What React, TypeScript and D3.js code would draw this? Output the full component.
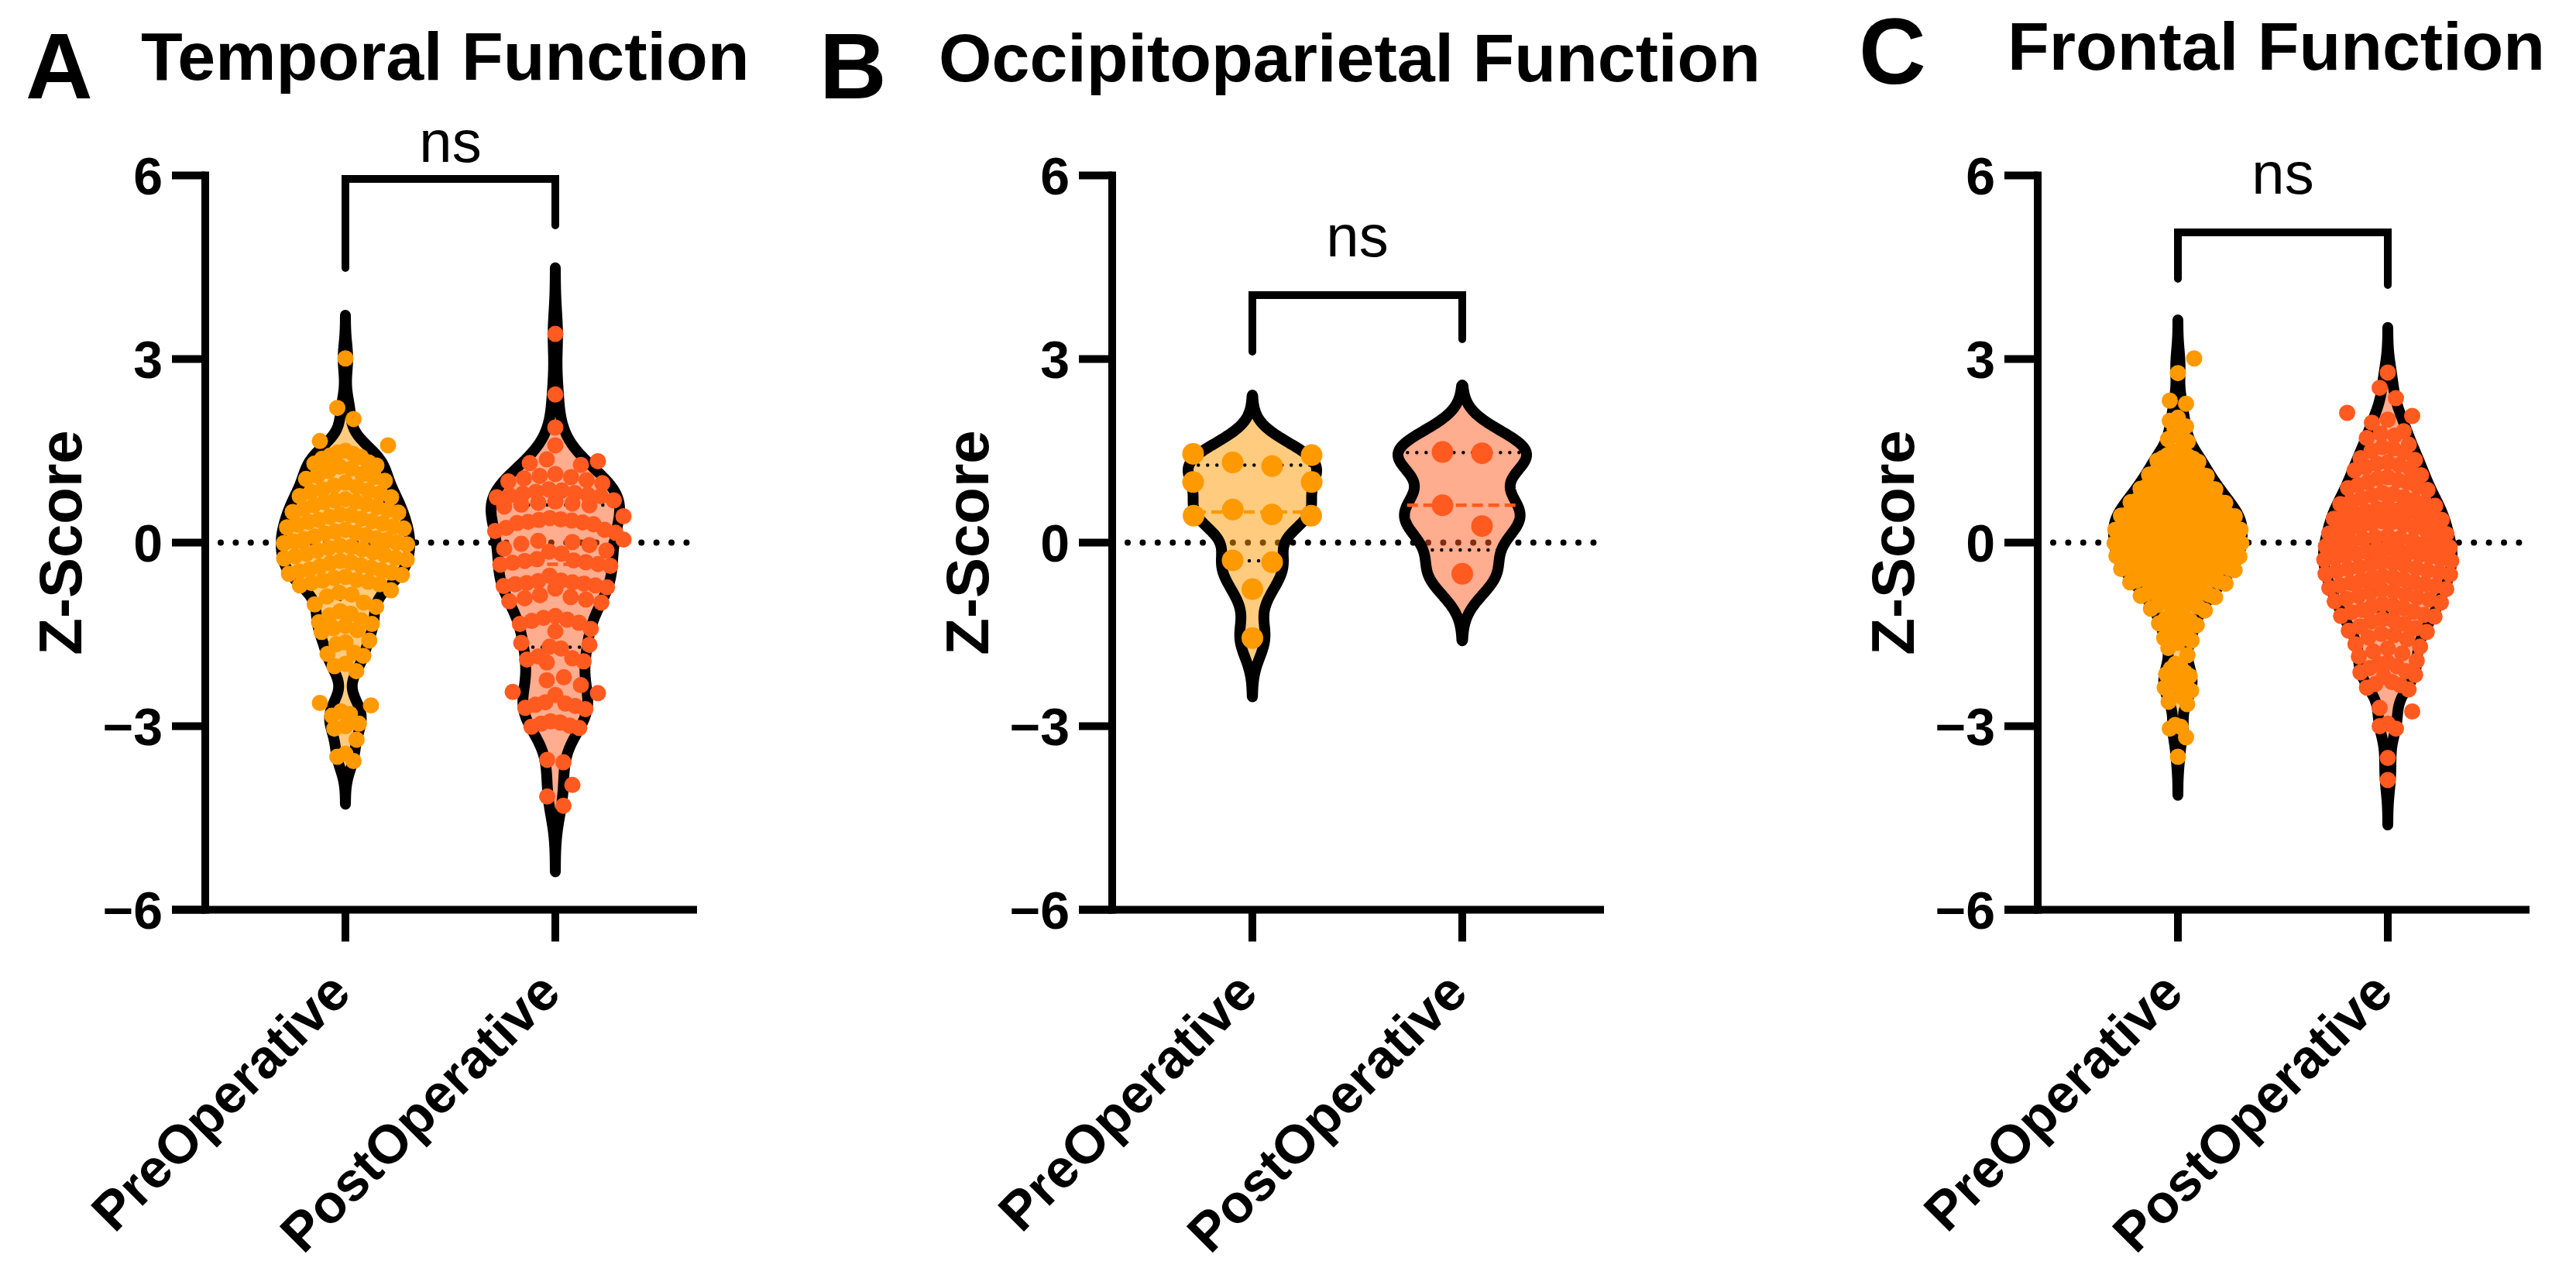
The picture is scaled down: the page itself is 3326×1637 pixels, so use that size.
import React from 'react';
import * as d3 from 'd3';

// ---------------- data ----------------
const categories = ['PreOperative', 'PostOperative'];
const yTicks = [-6, -3, 0, 3, 6];
const panelLetters = ['A', 'B', 'C'];
const panelTitles = ['Temporal Function', 'Occipitoparietal Function', 'Frontal Function'];
const significance = ['ns', 'ns', 'ns'];
const yAxisTitle = 'Z-Score';

const temporalPre = [
  3.01, 2.20, 2.02, 1.66, 1.59,
  1.50, 1.47, 1.45, 1.42, 1.40, 1.37,
  1.31, 1.29, 1.26, 1.24, 1.21, 1.17,
  1.12, 1.09, 1.07, 1.04, 1.01, 0.98,
  0.93, 0.91, 0.87, 0.85, 0.83, 0.80,
  0.76, 0.74, 0.71, 0.69, 0.67, 0.66, 0.63, 0.61,
  0.58, 0.55, 0.53, 0.50, 0.49, 0.46, 0.45, 0.42, 0.39,
  0.37, 0.35, 0.34, 0.31, 0.29, 0.26, 0.25, 0.23, 0.21,
  0.18, 0.16, 0.15, 0.12, 0.10, 0.07, 0.06, 0.04, 0.02,
  0.00, -0.01, -0.03, -0.05, -0.07, -0.09, -0.11, -0.13,
  -0.16, -0.18, -0.20, -0.22, -0.25, -0.26, -0.28, -0.30, -0.32, -0.34,
  -0.37, -0.39, -0.41, -0.44, -0.45, -0.47, -0.49, -0.51, -0.53,
  -0.56, -0.58, -0.61, -0.62, -0.64, -0.66, -0.68, -0.70,
  -0.78, -0.82, -0.85, -0.88,
  -0.98, -1.01, -1.05, -1.12, -1.16, -1.19, -1.27, -1.30, -1.33, -1.36, -1.40, -1.43,
  -1.46, -1.60, -1.63, -1.66, -1.80, -1.82, -1.85, -1.98, -2.02, -2.10,
  -2.62, -2.66, -2.76, -2.80, -2.83, -2.96, -3.00, -3.04, -3.22, -3.45, -3.50, -3.57,
];

const temporalPost = [
  3.41, 2.42, 1.88, 1.59,
  1.36, 1.33, 1.30, 1.27,
  1.12, 1.09, 1.07, 1.05, 1.02, 1.00, 0.97,
  0.87, 0.85, 0.83, 0.81, 0.80, 0.78, 0.77, 0.76, 0.74,
  0.69, 0.67, 0.65, 0.64, 0.62, 0.61, 0.59,
  0.43, 0.40, 0.38, 0.37, 0.36, 0.34, 0.33, 0.32, 0.30,
  0.24, 0.21, 0.19, 0.16,
  0.05, 0.03, 0.01, -0.02, -0.04,
  -0.10, -0.13, -0.15, -0.18,
  -0.27, -0.29, -0.30, -0.32, -0.33, -0.35, -0.36, -0.38,
  -0.54,
  -0.62, -0.63, -0.65, -0.66, -0.67, -0.68, -0.70, -0.71, -0.73, -0.75,
  -0.86, -0.89, -0.91, -0.93, -0.96, -0.98,
  -1.20, -1.23, -1.26, -1.28, -1.31, -1.33,
  -1.41, -1.45,
  -1.64, -1.67, -1.70, -1.73,
  -1.86, -1.89, -1.91, -1.94, -1.96,
  -2.20, -2.25, -2.33,
  -2.44, -2.46, -2.49,
  -2.61, -2.63, -2.65, -2.67, -2.70, -2.72,
  -2.92, -2.94, -2.96, -2.99, -3.01, -3.03,
  -3.55, -3.59, -3.96, -4.15, -4.30,
];

const occipitoparietalPre = [1.45, 1.43, 1.31, 1.25, 0.99, 0.99, 0.54, 0.46, 0.44, 0.44, -0.29, -0.32, -0.76, -1.56];
const occipitoparietalPost = [1.48, 1.46, 0.61, 0.27, -0.51];

const frontalPre = [
  3.01, 2.77, 2.32, 2.27, 2.04, 1.99, 1.90, 1.85, 1.72, 1.69, 1.65,
  1.49, 1.47, 1.44, 1.43, 1.41, 1.38, 1.37, 1.34, 1.32,
  1.29, 1.25, 1.24, 1.20, 1.18, 1.16, 1.13, 1.11,
  1.09, 1.08, 1.05, 1.04, 1.02, 1.00, 0.98, 0.97, 0.95,
  0.93, 0.92, 0.90, 0.88, 0.87, 0.85, 0.84, 0.82, 0.81, 0.79, 0.78,
  0.77, 0.75, 0.74, 0.73, 0.71, 0.70, 0.69, 0.67, 0.66, 0.65, 0.63, 0.62, 0.61,
  0.60, 0.59, 0.57, 0.56, 0.56, 0.54, 0.53, 0.52, 0.51, 0.49, 0.48, 0.48, 0.47, 0.46,
  0.45, 0.44, 0.43, 0.41, 0.41, 0.40, 0.39, 0.38, 0.36, 0.36, 0.35, 0.34, 0.33, 0.32,
  0.31, 0.30, 0.29, 0.28, 0.27, 0.27, 0.26, 0.24, 0.23, 0.22, 0.21, 0.21, 0.19, 0.18, 0.17,
  0.16, 0.15, 0.15, 0.13, 0.12, 0.11, 0.10, 0.09, 0.08, 0.08, 0.06, 0.05, 0.04, 0.03, 0.02,
  0.01, 0.00, -0.01, -0.01, -0.03, -0.04, -0.05, -0.06, -0.07, -0.08, -0.09, -0.10, -0.11, -0.12, -0.13,
  -0.14, -0.15, -0.17, -0.18, -0.19, -0.20, -0.21, -0.22, -0.23, -0.24, -0.25, -0.26, -0.27, -0.28, -0.28,
  -0.29, -0.31, -0.32, -0.33, -0.34, -0.35, -0.36, -0.37, -0.38, -0.39, -0.40, -0.41, -0.42, -0.43,
  -0.45, -0.46, -0.48, -0.49, -0.50, -0.52, -0.53, -0.54, -0.56, -0.57, -0.58, -0.59, -0.60,
  -0.62, -0.64, -0.65, -0.67, -0.68, -0.70, -0.71, -0.73, -0.74, -0.76, -0.77,
  -0.79, -0.81, -0.83, -0.85, -0.87, -0.89, -0.90, -0.92, -0.94,
  -0.97, -0.99, -1.02, -1.05, -1.08, -1.11, -1.14,
  -1.18, -1.21, -1.25, -1.28, -1.32, -1.35,
  -1.39, -1.43, -1.47, -1.52, -1.56, -1.60, -1.64,
  -1.72, -1.84,
  -1.98, -2.02, -2.06, -2.12, -2.15, -2.18,
  -2.26, -2.29, -2.31, -2.34, -2.37, -2.42, -2.46, -2.51,
  -2.60, -2.64,
  -2.98, -3.01, -3.04, -3.18, -3.50,
];

const frontalPost = [
  2.78, 2.53, 2.36, 2.12, 2.07, 2.01, 1.96,
  1.82, 1.78, 1.75, 1.71,
  1.60, 1.56, 1.54, 1.50, 1.47,
  1.38, 1.35, 1.31, 1.29, 1.27, 1.23, 1.21, 1.18,
  1.10, 1.07, 1.05, 1.02, 0.99, 0.98, 0.94, 0.92, 0.89, 0.86,
  0.81, 0.79, 0.77, 0.74, 0.72, 0.69, 0.67, 0.65, 0.63, 0.60, 0.58, 0.55,
  0.53, 0.51, 0.50, 0.47, 0.45, 0.43, 0.42, 0.39, 0.37, 0.35, 0.34, 0.31, 0.29, 0.27,
  0.25, 0.23, 0.22, 0.19, 0.17, 0.15, 0.14, 0.11, 0.09, 0.07, 0.06, 0.03, 0.01, -0.01, -0.02, -0.04,
  -0.06, -0.08, -0.09, -0.11, -0.13, -0.15, -0.16, -0.18, -0.20, -0.22, -0.23, -0.25, -0.27, -0.28, -0.30, -0.32,
  -0.34, -0.36, -0.37, -0.40, -0.42, -0.43, -0.46, -0.47, -0.49, -0.51, -0.52, -0.55, -0.57, -0.58,
  -0.60, -0.62, -0.65, -0.66, -0.68, -0.70, -0.71, -0.74, -0.76, -0.77, -0.80, -0.82,
  -0.85, -0.87, -0.90, -0.92, -0.93, -0.96, -0.98, -1.00, -1.03, -1.04, -1.07,
  -1.10, -1.13, -1.14, -1.18, -1.20, -1.21, -1.25, -1.27, -1.29, -1.33,
  -1.37, -1.40, -1.44, -1.46, -1.49, -1.51, -1.55, -1.58,
  -1.66, -1.70, -1.73, -1.78, -1.81, -1.86,
  -1.93, -1.96, -1.98, -2.02, -2.05,
  -2.10, -2.12, -2.16, -2.19,
  -2.28, -2.31, -2.33, -2.37, -2.40,
  -2.70, -2.76,
  -2.96, -3.00, -3.04,
  -3.52, -3.88,
];

// ---------------- style / layout ----------------
const FONT = "'Liberation Sans', Arial, Helvetica, sans-serif";
const COLORS = ['#FF9900', '#FF5A1F'];
const HALF = 83; // max half-width of violin path
const AXIS_W = 10;

type Panel = {
  pre: number[]; post: number[];
  axisX: number; letterX: number; letterY: number; titleX: number; titleY: number;
  bracketY: number; legs: [number, number]; nsY: number;
  r: number; binH: number; s0: number; spread: number; bw: [number, number];
};

const panels: Panel[] = [
  { pre: temporalPre, post: temporalPost, axisX: 265, letterX: 33, letterY: 127, titleX: 182, titleY: 103,
    bracketY: 231, legs: [346, 291], nsY: 209, r: 10.5, binH: 19, s0: 22, spread: -3, bw: [0.235, 0.36] },
  { pre: occipitoparietalPre, post: occipitoparietalPost, axisX: 1436, letterX: 1058, letterY: 127, titleX: 1212, titleY: 105,
    bracketY: 381, legs: [454, 438], nsY: 331, r: 14, binH: 28, s0: 51, spread: 3, bw: [0.32, 0.365] },
  { pre: frontalPre, post: frontalPost, axisX: 2631, letterX: 2400, letterY: 108, titleX: 2592, titleY: 90,
    bracketY: 300, legs: [360, 368], nsY: 250, r: 10.5, binH: 17, s0: 21, spread: -1, bw: [0.21, 0.245] },
];

const yScale = d3.scaleLinear().domain([-6, 6]).range([1174.5, 226.5]);

type Prof = { v: number; w: number };

function kdeProfile(values: number[], bw: number): Prof[] {
  const cut = 3;
  const lo = (d3.min(values) as number) - cut * bw;
  const hi = (d3.max(values) as number) + cut * bw;
  const n = 320;
  const grid = d3.range(n + 1).map((i) => lo + ((hi - lo) * i) / n);
  const dens = grid.map((g) => d3.sum(values, (v) => Math.exp(-0.5 * ((g - v) / bw) ** 2)));
  const max = d3.max(dens) as number;
  return grid.map((g, i) => ({ v: g, w: i === 0 || i === n ? 0 : (HALF * dens[i]) / max }));
}

function widthAt(prof: Prof[], v: number) {
  if (v <= prof[0].v || v >= prof[prof.length - 1].v) return 0;
  const i = d3.bisector((d: Prof) => d.v).left(prof, v);
  const a = prof[i - 1], b = prof[i];
  const t = (v - a.v) / (b.v - a.v);
  return a.w + t * (b.w - a.w);
}

function quant(sorted: number[], p: number) {
  const n = sorted.length;
  const h = (n + 1) * p;
  if (h <= 1) return sorted[0];
  if (h >= n) return sorted[n - 1];
  const i = Math.floor(h);
  return sorted[i - 1] + (h - i) * (sorted[i] - sorted[i - 1]);
}

function layoutSwarm(values: number[], wAt: (v: number) => number, r: number, binH: number, s0: number, spread: number) {
  const sorted = [...values].sort(d3.ascending);
  const bins: number[][] = [];
  let cur: number[] = [];
  for (const v of sorted) {
    if (cur.length && yScale(cur[0]) - yScale(v) > binH) { bins.push(cur); cur = []; }
    cur.push(v);
  }
  if (cur.length) bins.push(cur);
  const placed: { v: number; x: number; y: number }[] = [];
  for (const bin of bins) {
    const n = bin.length;
    const wl = Math.max(wAt(d3.mean(bin) as number) + spread, r);
    const s = n > 1 ? Math.min(s0, (2 * wl) / (n - 1)) : s0;
    const compressed = s < s0 - 1e-6;
    const half = (n - 1) / 2;
    const slots = d3.range(n).map((i) => (i - half) * s);
    slots.sort((a, b) => Math.abs(b) - Math.abs(a) || b - a);
    bin.forEach((v, i) => {
      let x = slots[i];
      const y = yScale(v);
      if (!compressed) {
        const minD = 2 * r * 0.95;
        const dir = x >= 0 ? 1 : -1;
        let guard = 0;
        while (placed.some((p) => Math.hypot(p.x - x, p.y - y) < minD) && guard < 12) { x += dir * s; guard++; }
      }
      placed.push({ v, x, y });
    });
  }
  return placed;
}

const fmt = (t: number) => (t < 0 ? '\u2212' + Math.abs(t) : String(t));

function PanelView({ cfg, idx }: { cfg: Panel; idx: number }) {
  const x = d3.scalePoint<string>().domain(categories).range([cfg.axisX + 181, cfg.axisX + 452]);
  const axisEnd = cfg.axisX + 635;
  const y0 = yScale(-6);
  const groups = [cfg.pre, cfg.post].map((vals, gi) => {
    const cx = x(categories[gi]) as number;
    const prof = kdeProfile(vals, cfg.bw[gi]);
    const wAt = (v: number) => widthAt(prof, v);
    const area = d3.area<Prof>().y((d) => yScale(d.v)).x0((d) => cx - d.w).x1((d) => cx + d.w).curve(d3.curveLinear);
    const pts = layoutSwarm(vals, wAt, cfg.r, cfg.binH, cfg.s0, cfg.spread);
    const sorted = [...vals].sort(d3.ascending);
    return {
      cx, path: area(prof) as string, pts, wAt,
      q1: quant(sorted, 0.25), med: quant(sorted, 0.5), q3: quant(sorted, 0.75),
      color: COLORS[gi],
    };
  });
  const [preX, postX] = [groups[0].cx, groups[1].cx];
  return (
    <g>
      <text x={cfg.letterX} y={cfg.letterY} fontSize={120} fontWeight="bold" fontFamily={FONT}>{panelLetters[idx]}</text>
      <text x={cfg.titleX} y={cfg.titleY} fontSize={88} fontWeight="bold" fontFamily={FONT}>{panelTitles[idx]}</text>
      <text transform={`translate(${cfg.axisX - 160},${yScale(0)}) rotate(-90)`} textAnchor="middle" fontSize={78} fontWeight="bold" fontFamily={FONT}>{yAxisTitle}</text>

      {/* zero reference line */}
      <line x1={cfg.axisX + 20} x2={axisEnd} y1={yScale(0)} y2={yScale(0)} stroke="#000" strokeWidth={8} strokeDasharray="0 19.4" strokeLinecap="round" />

      {/* violins */}
      {groups.map((g, gi) => (
        <path key={'v' + gi} d={g.path} fill={g.color} fillOpacity={0.5} stroke="#000" strokeWidth={14} strokeLinejoin="round" />
      ))}
      {groups.map((g, gi) => (
        <g key={'q' + gi}>
          {[g.q1, g.q3].map((q, k) => (
            <line key={k} x1={g.cx - g.wAt(q)} x2={g.cx + g.wAt(q)} y1={yScale(q)} y2={yScale(q)} stroke="#000" strokeWidth={4.5} strokeDasharray="0 12" strokeLinecap="round" />
          ))}
          <line x1={g.cx - g.wAt(g.med)} x2={g.cx + g.wAt(g.med)} y1={yScale(g.med)} y2={yScale(g.med)} stroke={g.color} strokeWidth={4.5} strokeDasharray="14 7" />
        </g>
      ))}
      {groups.map((g, gi) => (
        <g key={'p' + gi}>
          {g.pts.map((p, k) => (
            <circle key={k} cx={g.cx + p.x} cy={p.y} r={cfg.r} fill={g.color} />
          ))}
        </g>
      ))}

      {/* axes */}
      <line x1={cfg.axisX} x2={cfg.axisX} y1={yScale(6) - AXIS_W / 2} y2={y0 + AXIS_W / 2} stroke="#000" strokeWidth={AXIS_W} />
      {yTicks.map((t) => (
        <g key={t}>
          <line x1={cfg.axisX - 43} x2={cfg.axisX} y1={yScale(t)} y2={yScale(t)} stroke="#000" strokeWidth={AXIS_W} />
          <text x={cfg.axisX - 55} y={yScale(t)} dy="0.36em" textAnchor="end" fontSize={68} fontWeight="bold" fontFamily={FONT}>{fmt(t)}</text>
        </g>
      ))}
      <line x1={cfg.axisX - 43} x2={axisEnd} y1={y0} y2={y0} stroke="#000" strokeWidth={AXIS_W} />
      {categories.map((c) => (
        <g key={c}>
          <line x1={x(c)} x2={x(c)} y1={y0} y2={y0 + 41} stroke="#000" strokeWidth={AXIS_W} />
          <text transform={`translate(${(x(c) as number) + 10},1285) rotate(-45)`} textAnchor="end" fontSize={70} fontWeight="bold" fontFamily={FONT}>{c}</text>
        </g>
      ))}

      {/* significance bracket */}
      <path d={`M${preX},${cfg.legs[0]}V${cfg.bracketY}H${postX}V${cfg.legs[1]}`} fill="none" stroke="#000" strokeWidth={10} strokeLinecap="round" strokeLinejoin="miter" />
      <text x={(preX + postX) / 2} y={cfg.nsY} textAnchor="middle" fontSize={76} fontFamily={FONT}>{significance[idx]}</text>
    </g>
  );
}

export default function App() {
  return (
    <svg width={3326} height={1637} viewBox="0 0 3326 1637" style={{ position: 'absolute', left: 0, top: 0, background: '#fff' }}>
      <rect width={3326} height={1637} fill="#fff" />
      {panels.map((p, i) => (
        <PanelView key={i} cfg={p} idx={i} />
      ))}
    </svg>
  );
}
